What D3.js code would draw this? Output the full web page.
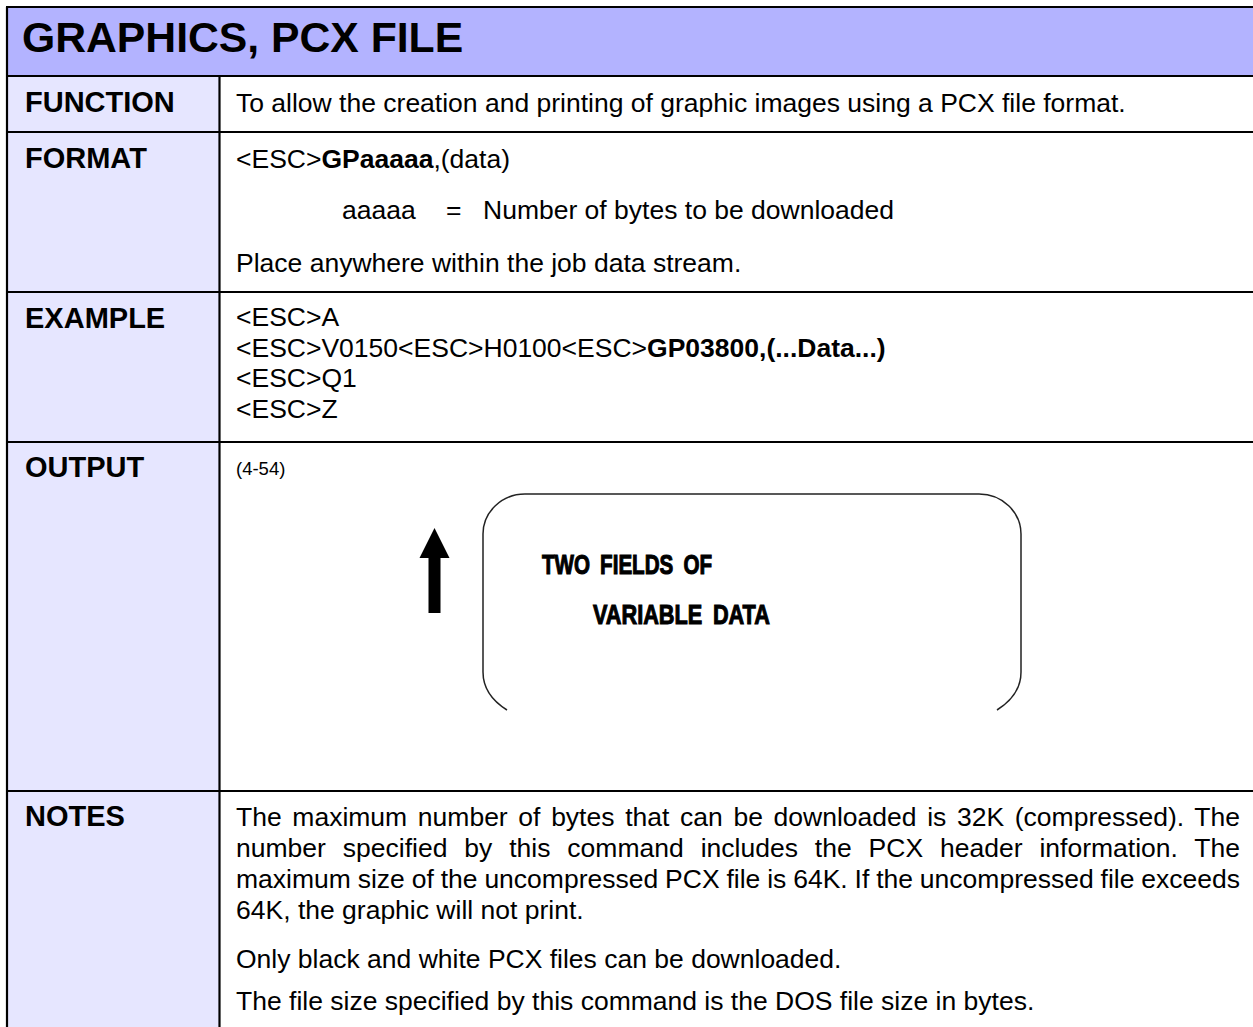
<!DOCTYPE html>
<html>
<head>
<meta charset="utf-8">
<script src="https://cdn.jsdelivr.net/npm/d3@7"></script>
<style>
  html, body { margin: 0; padding: 0; background: #fff; }
  svg { display: block; }
</style>
</head>
<body>
<svg id="page" width="1253" height="1027"></svg>
<script>
// ---------- content ----------
const title = "GRAPHICS, PCX FILE";
const rowLabels = ["FUNCTION", "FORMAT", "EXAMPLE", "OUTPUT", "NOTES"];
const functionText = "To allow the creation and printing of graphic images using a PCX file format.";
const formatLine = [["<ESC>", false], ["GPaaaaa", true], [",(data)", false]];
const formatParam = ["aaaaa", "=", "Number of bytes to be downloaded"];
const formatNote = "Place anywhere within the job data stream.";
const exampleLines = [
  [["<ESC>A", false]],
  [["<ESC>V0150<ESC>H0100<ESC>", false], ["GP03800,(...Data...)", true]],
  [["<ESC>Q1", false]],
  [["<ESC>Z", false]]
];
const outputRef = "(4-54)";
const outputLabelLines = ["TWO FIELDS OF", "VARIABLE DATA"];
const notesPara1 = [
  "The maximum number of bytes that can be downloaded is 32K (compressed). The",
  "number specified by this command includes the PCX header information. The",
  "maximum size of the uncompressed PCX file is 64K. If the uncompressed file exceeds",
  "64K, the graphic will not print."
];
const notesPara2 = "Only black and white PCX files can be downloaded.";
const notesPara3 = "The file size specified by this command is the DOS file size in bytes.";

// ---------- layout ----------
const W = 1253, H = 1027;
const svg = d3.select("#page");
const FONT = "'Liberation Sans', Arial, Helvetica, sans-serif";
const headerColor = "#b3b3ff";
const labelColor = "#e6e6ff";
const left = 7, split = 219.5, right = W;
const rowEdges = [76, 132, 292, 442, 791, H];
const headerTop = 7;
const BODY = 26.5;

// backgrounds
svg.append("rect").attr("x", left).attr("y", headerTop).attr("width", right - left).attr("height", rowEdges[0] - headerTop).attr("fill", headerColor);
svg.append("rect").attr("x", left).attr("y", rowEdges[0]).attr("width", split - left).attr("height", H - rowEdges[0]).attr("fill", labelColor);

// grid lines
const lines = svg.append("g").attr("stroke", "#000").attr("stroke-width", 2.2);
[headerTop].concat(rowEdges.slice(0, 5)).forEach(y => {
  lines.append("line").attr("x1", left - 1).attr("x2", right).attr("y1", y).attr("y2", y);
});
lines.append("line").attr("x1", left).attr("x2", left).attr("y1", headerTop).attr("y2", H);
lines.append("line").attr("x1", split).attr("x2", split).attr("y1", rowEdges[0]).attr("y2", H);

// title
svg.append("text").attr("x", 22).attr("y", 52).attr("font-family", FONT).attr("font-weight", "bold").attr("font-size", 42.7).attr("fill", "#000").text(title);

// row labels
const labelBaselines = [112, 168, 328, 477, 826];
svg.append("g").selectAll("text").data(rowLabels).join("text")
  .attr("x", 25).attr("y", (d, i) => labelBaselines[i])
  .attr("font-family", FONT).attr("font-weight", "bold").attr("font-size", 29).attr("fill", "#000")
  .text(d => d);

const body = svg.append("g").attr("font-family", FONT).attr("font-size", BODY).attr("fill", "#000");
const tx = 236;

function plain(x, y, s) {
  return body.append("text").attr("x", x).attr("y", y).text(s);
}
function runs(y, parts) {
  const t = body.append("text").attr("x", tx).attr("y", y);
  t.selectAll("tspan").data(parts).join("tspan")
    .attr("font-weight", d => d[1] ? "bold" : "normal")
    .text(d => d[0]);
  return t;
}

// FUNCTION
plain(tx, 112, functionText);

// FORMAT
runs(168, formatLine);
const paramX = [342, 446, 483];
formatParam.forEach((s, i) => plain(paramX[i], 219, s));
plain(tx, 272, formatNote);

// EXAMPLE
const exBase = [326, 357, 387, 418];
exampleLines.forEach((l, i) => runs(exBase[i], l));

// OUTPUT
plain(236, 475, outputRef).attr("font-size", 18.5);

// arrow (up)
const ax = 434.5;
const arrow = d3.path();
arrow.moveTo(ax, 528); arrow.lineTo(ax + 15, 558); arrow.lineTo(ax + 6, 558); arrow.lineTo(ax + 6, 613);
arrow.lineTo(ax - 6, 613); arrow.lineTo(ax - 6, 558); arrow.lineTo(ax - 15, 558); arrow.closePath();
svg.append("path").attr("d", arrow.toString()).attr("fill", "#000");

// label outline (rounded, bottom cut off)
const bx0 = 483, bx1 = 1021, by0 = 494, rx = 42, ry = 40;
const outline = d3.path();
outline.moveTo(bx0 + 24, 710);
outline.quadraticCurveTo(bx0, 695, bx0, 672);
outline.lineTo(bx0, by0 + ry);
outline.bezierCurveTo(bx0, by0 + ry * 0.45, bx0 + rx * 0.45, by0, bx0 + rx, by0);
outline.lineTo(bx1 - rx, by0);
outline.bezierCurveTo(bx1 - rx * 0.45, by0, bx1, by0 + ry * 0.45, bx1, by0 + ry);
outline.lineTo(bx1, 672);
outline.quadraticCurveTo(bx1, 695, bx1 - 24, 710);
svg.append("path").attr("d", outline.toString()).attr("fill", "none").attr("stroke", "#222").attr("stroke-width", 1.5);

// condensed heavy label text, squeezed horizontally
const lblSpecs = [[542, 574, 712], [593, 624, 770]];
outputLabelLines.forEach((s, i) => {
  const [x0, y, x1] = lblSpecs[i];
  const g = svg.append("g");
  const t = g.append("text").attr("x", 0).attr("y", 0)
    .attr("font-family", FONT).attr("font-weight", "bold").attr("font-size", 28)
    .attr("fill", "#000").attr("stroke", "#000").attr("stroke-width", 1.1)
    .attr("word-spacing", 6).text(s);
  const w = t.node().getComputedTextLength();
  g.attr("transform", `translate(${x0},${y}) scale(${(x1 - x0) / w},1)`);
});

// NOTES (first paragraph justified)
const justifyRight = 1240;
const nBase = [826, 857, 888, 919];
notesPara1.forEach((s, i) => {
  const t = plain(tx, nBase[i], s);
  if (i < notesPara1.length - 1) {
    const w = t.node().getComputedTextLength();
    const gaps = s.split(" ").length - 1;
    t.attr("word-spacing", (justifyRight - tx - w) / gaps);
  }
});
plain(tx, 968, notesPara2);
plain(tx, 1010, notesPara3);
</script>
</body>
</html>
